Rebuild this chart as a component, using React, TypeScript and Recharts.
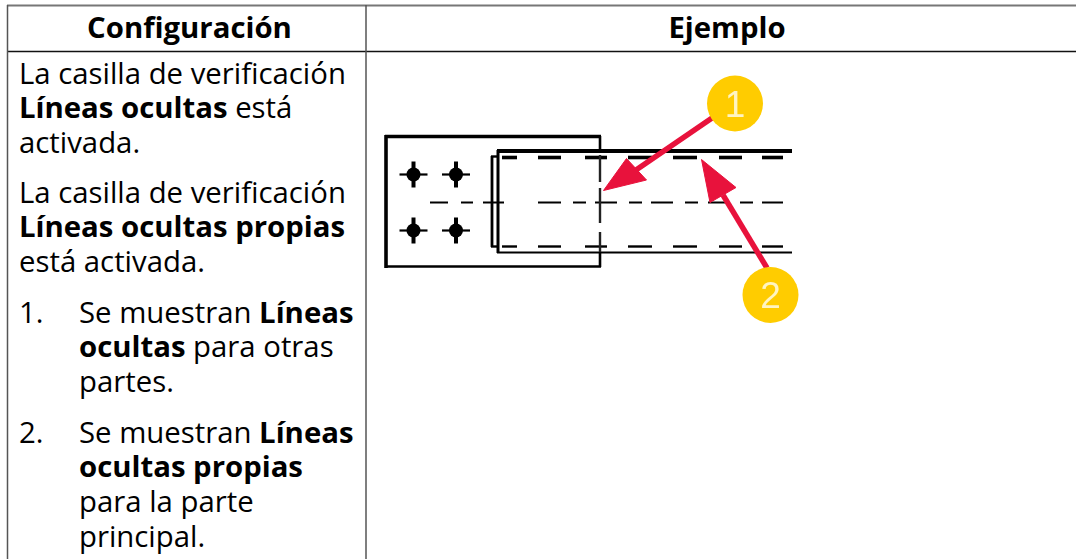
import { LineChart, Line, XAxis, YAxis } from "recharts";

const BODY_FONT = '"Open Sans", "Noto Sans", sans-serif';

// table text, one entry per rendered line, [text, bold]
type Run = [string, boolean];
const headers = ["Configuración", "Ejemplo"];
const paragraphOne: Run[][] = [
  [["La casilla de verificación", false]],
  [["Líneas ocultas", true], [" está", false]],
  [["activada.", false]],
];
const paragraphTwo: Run[][] = [
  [["La casilla de verificación", false]],
  [["Líneas ocultas propias", true]],
  [["está activada.", false]],
];
const itemOne: Run[][] = [
  [["Se muestran ", false], ["Líneas", true]],
  [["ocultas", true], [" para otras", false]],
  [["partes.", false]],
];
const itemTwo: Run[][] = [
  [["Se muestran ", false], ["Líneas", true]],
  [["ocultas propias", true]],
  [["para la parte", false]],
  [["principal.", false]],
];

// drawing, in the chart's x/y units
const plateTop = [[385, 136.5], [601, 136.5]];
const plateLeft = [[386, 135], [386, 268]];
const plateBottom = [[385, 266.5], [601, 266.5]];
const plateRightTop = [[600, 136], [600, 152]];
const plateRightBottom = [[600, 252], [600, 267]];
const beamTop = [[497, 151], [792, 151]];
const beamBottom = [[497, 252.5], [792, 252.5]];
const beamLeft = [[498, 150], [498, 253]];
const flangeLeft = [[492, 156], [492, 247]];
const flangeTop = [[491, 156.5], [498, 156.5]];
const flangeBottom = [[491, 246.5], [498, 246.5]];

const topDashes = [[502, 517], [538, 561], [585, 607], [628, 652], [673, 697], [719, 742], [762, 783]];
const midDashes = [[430, 448], [461, 473], [483, 504], [538, 561], [573, 586], [595, 617], [629, 642], [651, 673], [685, 698], [708, 728], [740, 753], [762, 783]];
const lowDashes = [[502, 517], [538, 561], [585, 607], [628, 652], [673, 697], [719, 742], [762, 783]];
const crossDashes = [[155, 182], [188, 223], [232, 252]];

const boltCenters = [[413.5, 174.5], [456, 174.5], [413.5, 230.5], [456, 230.5]];

const arrowOneShaft = [[712, 118], [636, 170]];
const arrowOneHead = [[603.5, 190.5], [646.5, 180], [626.5, 158.5]];
const arrowTwoShaft = [[767, 268], [723, 195]];
const arrowTwoHead = [[701.5, 159.5], [736, 187.5], [710, 202.5]];
const badgeOne = [735, 103.5];
const badgeTwo = [770.5, 295];

// table rules
const ruleTop = [[7, 5.5], [1076, 5.5]];
const ruleHeader = [[7, 51.5], [1076, 51.5]];
const ruleLeft = [[7.5, 5], [7.5, 559]];
const ruleColumn = [[366, 5], [366, 559]];

const toPoints = (pairs: number[][]) => pairs.map(([x, y]) => ({ x, y }));

const INK = "#000000";
const RED = "#e8123c";
const YELLOW = "#ffcc00";

function seg(key: string, pairs: number[][], width: number, color = INK) {
  return (
    <Line
      key={key}
      data={toPoints(pairs)}
      dataKey="y"
      stroke={color}
      strokeWidth={width}
      dot={false}
      activeDot={false}
      legendType="none"
      isAnimationActive={false}
    />
  );
}

// filled outline: the first dot paints the polygon through all the scaled points
function ArrowHead(props: any) {
  if (props.index !== 0 || !props.points) return <g key={props.key} />;
  const pts = props.points.map((p: any) => `${p.x},${p.y}`).join(" ");
  return <polygon key={props.key} points={pts} fill={RED} stroke={RED} strokeWidth={1} />;
}

function badge(key: string, at: number[], label: string) {
  const BadgeDot = (props: any) => (
    <g key={props.key}>
      <circle cx={props.cx} cy={props.cy} r={28} fill={YELLOW} />
      <text
        x={props.cx}
        y={props.cy + 13}
        textAnchor="middle"
        fontFamily='"Liberation Sans", sans-serif'
        fontSize={37}
        fill="#fff4c2"
      >
        {label}
      </text>
    </g>
  );
  return (
    <Line
      key={key}
      data={toPoints([at])}
      dataKey="y"
      stroke="none"
      dot={BadgeDot}
      activeDot={false}
      isAnimationActive={false}
    />
  );
}

function TextLines({ lines, left, top }: { lines: Run[][]; left: number; top: number }) {
  return (
    <div style={{ position: "absolute", left, top, lineHeight: "34.7px", whiteSpace: "pre" }}>
      {lines.map((runs, i) => (
        <div key={i}>
          {runs.map(([text, bold], j) => (
            <span key={j} style={{ fontWeight: bold ? 700 : 400 }}>
              {text}
            </span>
          ))}
        </div>
      ))}
    </div>
  );
}

const axes = [
  <XAxis key="x" type="number" dataKey="x" domain={[0, 1076]} hide />,
  <YAxis key="y" type="number" domain={[0, 559]} reversed hide />,
];

export default function App() {
  return (
    <div
      style={{
        position: "fixed",
        left: 0,
        top: 0,
        width: 1076,
        height: 559,
        overflow: "hidden",
        background: "#fff",
        fontFamily: BODY_FONT,
        fontSize: 29.33,
        color: "#000",
      }}
    >
      <div style={{ position: "absolute", left: 0, top: 0 }}>
        <LineChart width={1076} height={559} margin={{ top: 0, right: 0, bottom: 0, left: 0 }}>
          {axes}
          {seg("rule-top", ruleTop, 2, "#777777")}
          {seg("rule-header", ruleHeader, 1.5, "#111111")}
          {seg("rule-left", ruleLeft, 1.5, "#555555")}
          {seg("rule-column", ruleColumn, 1.5, "#555555")}
        </LineChart>
      </div>

      <div style={{ position: "absolute", left: 0, top: 0, filter: "blur(0.5px)" }}>
        <LineChart width={1076} height={559} margin={{ top: 0, right: 0, bottom: 0, left: 0 }}>
          {axes}
          {seg("plate-top", plateTop, 3.6)}
          {seg("plate-left", plateLeft, 3.6)}
          {seg("plate-bottom", plateBottom, 2.6)}
          {seg("plate-right-top", plateRightTop, 2.6)}
          {seg("plate-right-bottom", plateRightBottom, 2.6)}
          {seg("beam-top", beamTop, 3.8)}
          {seg("beam-bottom", beamBottom, 2.2)}
          {seg("beam-left", beamLeft, 3)}
          {seg("flange-left", flangeLeft, 2.8)}
          {seg("flange-top", flangeTop, 2.4)}
          {seg("flange-bottom", flangeBottom, 2.4)}

          {topDashes.map(([a, b]) => seg(`top-${a}`, [[a, 157.5], [b, 157.5]], 3.6))}
          {midDashes.map(([a, b]) => seg(`mid-${a}`, [[a, 202.5], [b, 202.5]], 2))}
          {lowDashes.map(([a, b]) => seg(`low-${a}`, [[a, 246.5], [b, 246.5]], 2.4))}
          {crossDashes.map(([a, b]) => seg(`cross-${a}`, [[600, a], [600, b]], 2.4, "#222222"))}

          {boltCenters.map(([x, y]) => seg(`bolt-h-${x}-${y}`, [[x - 14, y], [x + 14, y]], 2.2))}
          {boltCenters.map(([x, y]) => seg(`bolt-v-${x}-${y}`, [[x, y - 13], [x, y + 13]], 4))}
          <Line
            data={toPoints(boltCenters)}
            dataKey="y"
            stroke="none"
            dot={{ r: 7, fill: "#000", stroke: "none" }}
            activeDot={false}
            isAnimationActive={false}
          />

          {seg("arrow-1-shaft", arrowOneShaft, 5.5, RED)}
          <Line data={toPoints(arrowOneHead)} dataKey="y" stroke="none" dot={ArrowHead} activeDot={false} isAnimationActive={false} />
          {seg("arrow-2-shaft", arrowTwoShaft, 5.5, RED)}
          <Line data={toPoints(arrowTwoHead)} dataKey="y" stroke="none" dot={ArrowHead} activeDot={false} isAnimationActive={false} />
          {badge("badge-1", badgeOne, "1")}
          {badge("badge-2", badgeTwo, "2")}
        </LineChart>
      </div>

      <div style={{ position: "absolute", left: 10.5, width: 358, top: 9, textAlign: "center", fontWeight: 700, lineHeight: "36px" }}>
        {headers[0]}
      </div>
      <div style={{ position: "absolute", left: 367, width: 720, top: 9, textAlign: "center", fontWeight: 700, lineHeight: "36px" }}>
        {headers[1]}
      </div>

      <TextLines lines={paragraphOne} left={19} top={55.5} />
      <TextLines lines={paragraphTwo} left={19} top={174.5} />
      <div style={{ position: "absolute", left: 19, top: 294.5, lineHeight: "34.7px" }}>1.</div>
      <TextLines lines={itemOne} left={79} top={294.5} />
      <div style={{ position: "absolute", left: 19, top: 414.5, lineHeight: "34.7px" }}>2.</div>
      <TextLines lines={itemTwo} left={79} top={414.5} />
    </div>
  );
}
